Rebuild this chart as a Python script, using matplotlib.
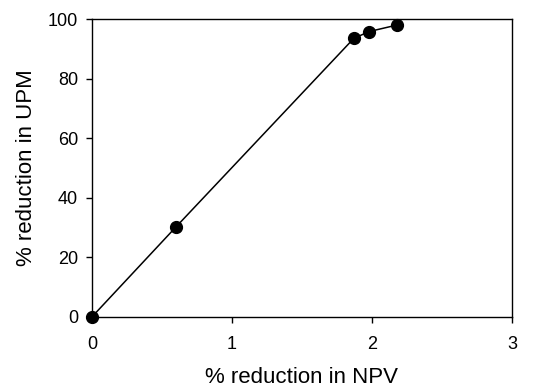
import matplotlib
matplotlib.use("Agg")
from matplotlib import pyplot as plt

# data
npv_reduction = [0.0, 0.60, 1.87, 1.98, 2.18]
upm_reduction = [0.0, 30.2, 93.5, 95.8, 98.0]
x_ticks = [0, 1, 2, 3]
y_ticks = [0, 20, 40, 60, 80, 100]

plt.rcParams['font.family'] = ['Liberation Sans', 'DejaVu Sans']

fig = plt.figure(figsize=(5.34, 3.88), dpi=100)
ax = fig.add_axes([0.172, 0.183, 0.787, 0.768])

ax.plot(npv_reduction, upm_reduction, color='black', linewidth=1.1,
        marker='o', markersize=8.5, clip_on=False, zorder=3)

ax.set_xlim(0, 3)
ax.set_ylim(0, 100)
ax.set_xticks(x_ticks)
ax.set_yticks(y_ticks)
ax.tick_params(direction='out', length=4, width=1, labelsize=13)
ax.tick_params(axis='x', pad=10)
ax.tick_params(axis='y', pad=6)
for s in ax.spines.values():
    s.set_linewidth(1)

ax.set_xlabel('% reduction in NPV', fontsize=16, labelpad=10)
ax.set_ylabel('% reduction in UPM', fontsize=16, labelpad=8)

fig.savefig('out.png', dpi=100)
